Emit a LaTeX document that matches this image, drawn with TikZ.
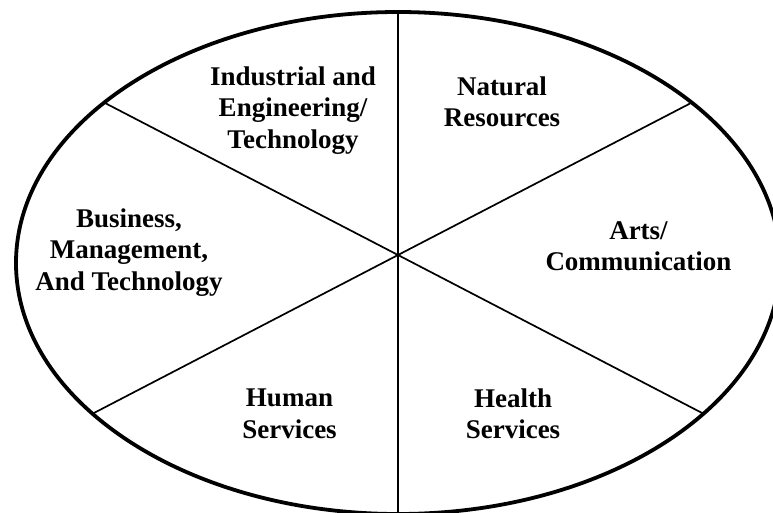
\documentclass[tikz,border=0pt]{standalone}
\usepackage{fontspec}
\setmainfont{Liberation Serif}
\begin{document}
\begin{tikzpicture}[x=1pt,y=-1pt,
  rim/.style={line width=3.8pt},
  spoke/.style={line width=1.7pt},
  divider/.style={line width=2pt},
  area/.style={align=center,inner sep=0pt,
    font=\fontsize{27}{31.5}\selectfont\bfseries}]
  \useasboundingbox (0,0) rectangle (773,512);
  \clip (0,0) rectangle (773,512);
  % outer ring of the wheel
  \draw[rim] (398,263) ellipse [x radius=382, y radius=251];
  % hub and rim points of the spokes
  \coordinate (hub) at (398,255);
  \coordinate (top) at (398,12);
  \coordinate (bottom) at (398,516);
  \coordinate (ul) at (105,103);
  \coordinate (ur) at (691,103);
  \coordinate (ll) at (92,414);
  \coordinate (lr) at (704,414);
  \draw[divider] (top) -- (bottom);
  \draw[spoke] (ul) -- (hub) -- (lr);
  \draw[spoke] (ur) -- (hub) -- (ll);
  % sector labels
  \node[area] (ind) at (293,110.5) {Industrial and\\Engineering/\\Technology};
  \node[area] (nat) at (502,102) {Natural\\Resources};
  \node[area] (bus) at (129,252.5) {Business,\\Management,\\And Technology};
  \node[area] (art) at (638.5,246) {Arts/\\Communication};
  \node[area] (hum) at (289.5,414) {Human\\Services};
  \node[area] (hea) at (513,414) {Health\\Services};
\end{tikzpicture}
\end{document}
